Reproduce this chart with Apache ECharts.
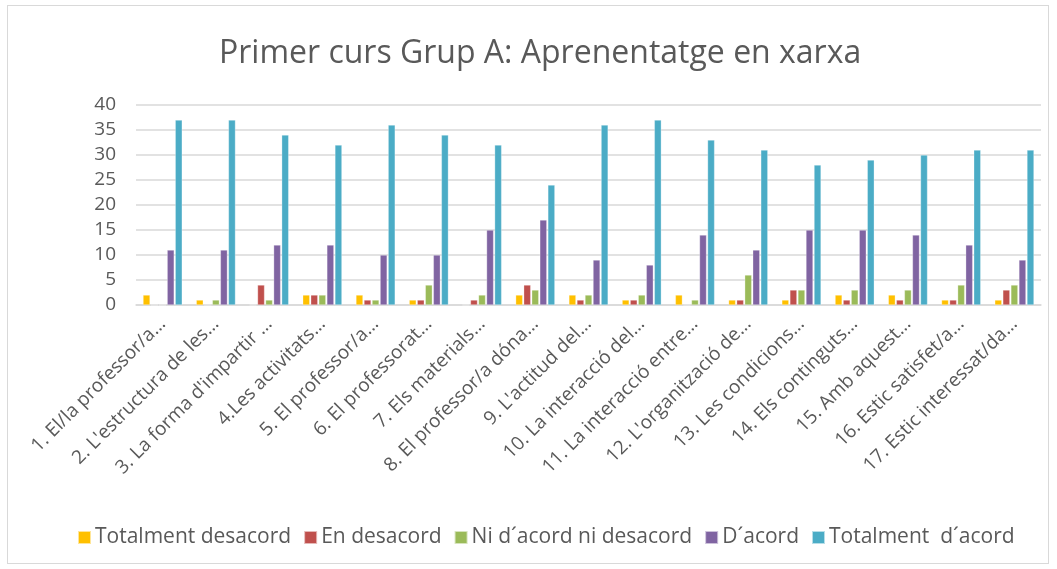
<!DOCTYPE html>
<html lang="ca">
<head>
  <meta charset="UTF-8">
  <title>Primer curs Grup A</title>
  <script src="https://cdn.jsdelivr.net/npm/echarts@6/dist/echarts.min.js"></script>
  <style>
    html, body { margin: 0; padding: 0; background: #fff; }
    #frame { position: absolute; left: 7px; top: 5px; width: 1042px; height: 559px; border: 1px solid #d9d9d9; box-sizing: border-box; }
    #chart { position: absolute; left: 0; top: 0; width: 1057px; height: 569px; }
  </style>
</head>
<body>
  <div id="frame"></div>
  <div id="chart"></div>
<script>
  const categories = [
    "1. El/la professor/a…", "2. L'estructura de les…", "3. La forma d'impartir …",
    "4.Les activitats…", "5. El professor/a…", "6. El professorat…",
    "7. Els materials…", "8. El professor/a dóna…", "9. L'actitud del…",
    "10. La interacció del…", "11. La interacció entre…", "12. L'organització de…",
    "13. Les condicions…", "14. Els continguts…", "15. Amb aquest…",
    "16. Estic satisfet/a…", "17. Estic interessat/da…"
  ]
  const seriesNames = ["Totalment desacord", "En desacord", "Ni d´acord ni desacord", "D´acord", "Totalment  d´acord"]
  const totalmentDesacord = [2, 1, 0, 2, 2, 1, 0, 2, 2, 1, 2, 1, 1, 2, 2, 1, 1]
  const enDesacord        = [0, 0, 4, 2, 1, 1, 1, 4, 1, 1, 0, 1, 3, 1, 1, 1, 3]
  const niAcordNiDesacord = [0, 1, 1, 2, 1, 4, 2, 3, 2, 2, 1, 6, 3, 3, 3, 4, 4]
  const dAcord            = [11, 11, 12, 12, 10, 10, 15, 17, 9, 8, 14, 11, 15, 15, 14, 12, 9]
  const totalmentAcord    = [37, 37, 34, 32, 36, 34, 32, 24, 36, 37, 33, 31, 28, 29, 30, 31, 31]
  const colors = ["#FFC000", "#C0504D", "#9BBB59", "#8064A2", "#4BACC6"]

  const font = "'Open Sans', sans-serif"
  const allData = [totalmentDesacord, enDesacord, niAcordNiDesacord, dAcord, totalmentAcord]

  let myChart = echarts.init(document.getElementById("chart"))
  let option = {
    color: colors,
    animation: false,
    title: {
      text: "Primer curs Grup A: Aprenentatge en xarxa",
      left: 214,
      top: 33,
      textStyle: { fontFamily: font, fontSize: 32, fontWeight: "normal", color: "#595959" }
    },
    legend: {
      top: 522,
      left: 72,
      itemWidth: 13,
      itemHeight: 13,
      itemGap: 12,
      icon: "rect",
      textStyle: { fontFamily: font, fontSize: 21, color: "#595959", padding: [0, 0, 0, -1] },
      data: seriesNames
    },
    grid: { left: 136, right: 16, top: 105, bottom: 264 },
    xAxis: {
      type: "category",
      data: categories,
      axisTick: { show: false },
      axisLine: { lineStyle: { color: "#d9d9d9", width: 1.5 } },
      axisLabel: { rotate: 45, interval: 0, margin: 16, fontFamily: font, fontSize: 19, color: "#595959" }
    },
    yAxis: {
      type: "value",
      min: 0,
      max: 40,
      interval: 5,
      axisLine: { show: false },
      axisTick: { show: false },
      axisLabel: { fontFamily: font, fontSize: 19, color: "#595959", margin: 20 },
      splitLine: { lineStyle: { color: "#d9d9d9", width: 1.5 } }
    },
    series: seriesNames.map((name, i) => ({
      name: name,
      type: "bar",
      data: allData[i],
      barWidth: 7,
      barGap: "15%",
      itemStyle: { borderColor: "rgba(255,255,255,0.6)", borderWidth: 0.5 }
    }))
  }
  myChart.setOption(option)
</script>
</body>
</html>
